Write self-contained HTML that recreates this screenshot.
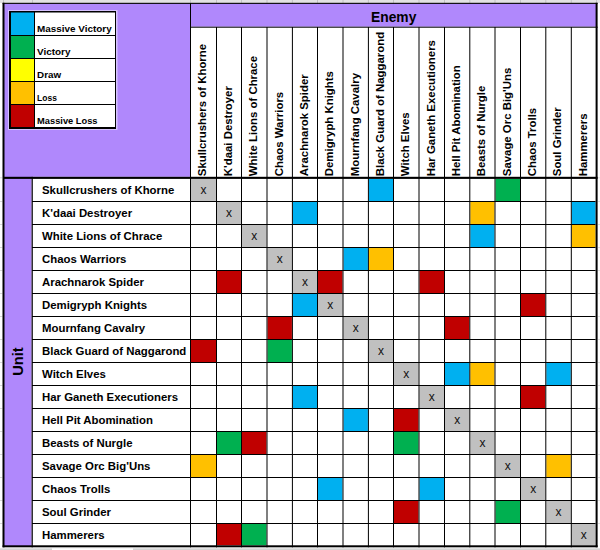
<!DOCTYPE html>
<html><head><meta charset="utf-8"><style>html,body{margin:0;padding:0;background:#fff;}svg{display:block;}text{font-family:"Liberation Sans",sans-serif;}</style></head><body>
<svg width="600" height="550" viewBox="0 0 600 550">
<rect x="0" y="0" width="600" height="550" fill="#fff"/>
<rect x="0" y="0" width="600" height="3" fill="#e3e3e3"/>
<rect x="3.0" y="0" width="1" height="3" fill="#c4c4c4"/>
<rect x="32.0" y="0" width="1" height="3" fill="#c4c4c4"/>
<rect x="190.0" y="0" width="1" height="3" fill="#c4c4c4"/>
<rect x="216.0" y="0" width="1" height="3" fill="#c4c4c4"/>
<rect x="241.0" y="0" width="1" height="3" fill="#c4c4c4"/>
<rect x="266.5" y="0" width="1" height="3" fill="#c4c4c4"/>
<rect x="291.9" y="0" width="1" height="3" fill="#c4c4c4"/>
<rect x="317.0" y="0" width="1" height="3" fill="#c4c4c4"/>
<rect x="342.5" y="0" width="1" height="3" fill="#c4c4c4"/>
<rect x="367.9" y="0" width="1" height="3" fill="#c4c4c4"/>
<rect x="393.0" y="0" width="1" height="3" fill="#c4c4c4"/>
<rect x="418.5" y="0" width="1" height="3" fill="#c4c4c4"/>
<rect x="444.0" y="0" width="1" height="3" fill="#c4c4c4"/>
<rect x="469.3" y="0" width="1" height="3" fill="#c4c4c4"/>
<rect x="494.5" y="0" width="1" height="3" fill="#c4c4c4"/>
<rect x="520.0" y="0" width="1" height="3" fill="#c4c4c4"/>
<rect x="545.3" y="0" width="1" height="3" fill="#c4c4c4"/>
<rect x="570.8" y="0" width="1" height="3" fill="#c4c4c4"/>
<rect x="596.0" y="0" width="1" height="3" fill="#c4c4c4"/>
<rect x="0" y="548.3" width="600" height="1.7" fill="#d4d4d4"/>
<rect x="52" y="548.3" width="81" height="1.7" fill="#fff"/>
<rect x="0" y="177.3" width="2.4" height="1" fill="#d8d8d8"/>
<rect x="597.8" y="177.3" width="2.2" height="1" fill="#e0e0e0"/>
<rect x="0" y="201.0" width="2.4" height="1" fill="#d8d8d8"/>
<rect x="597.8" y="201.0" width="2.2" height="1" fill="#e0e0e0"/>
<rect x="0" y="224.0" width="2.4" height="1" fill="#d8d8d8"/>
<rect x="597.8" y="224.0" width="2.2" height="1" fill="#e0e0e0"/>
<rect x="0" y="247.0" width="2.4" height="1" fill="#d8d8d8"/>
<rect x="597.8" y="247.0" width="2.2" height="1" fill="#e0e0e0"/>
<rect x="0" y="270.0" width="2.4" height="1" fill="#d8d8d8"/>
<rect x="597.8" y="270.0" width="2.2" height="1" fill="#e0e0e0"/>
<rect x="0" y="293.0" width="2.4" height="1" fill="#d8d8d8"/>
<rect x="597.8" y="293.0" width="2.2" height="1" fill="#e0e0e0"/>
<rect x="0" y="316.0" width="2.4" height="1" fill="#d8d8d8"/>
<rect x="597.8" y="316.0" width="2.2" height="1" fill="#e0e0e0"/>
<rect x="0" y="339.0" width="2.4" height="1" fill="#d8d8d8"/>
<rect x="597.8" y="339.0" width="2.2" height="1" fill="#e0e0e0"/>
<rect x="0" y="362.0" width="2.4" height="1" fill="#d8d8d8"/>
<rect x="597.8" y="362.0" width="2.2" height="1" fill="#e0e0e0"/>
<rect x="0" y="385.0" width="2.4" height="1" fill="#d8d8d8"/>
<rect x="597.8" y="385.0" width="2.2" height="1" fill="#e0e0e0"/>
<rect x="0" y="408.0" width="2.4" height="1" fill="#d8d8d8"/>
<rect x="597.8" y="408.0" width="2.2" height="1" fill="#e0e0e0"/>
<rect x="0" y="431.0" width="2.4" height="1" fill="#d8d8d8"/>
<rect x="597.8" y="431.0" width="2.2" height="1" fill="#e0e0e0"/>
<rect x="0" y="454.0" width="2.4" height="1" fill="#d8d8d8"/>
<rect x="597.8" y="454.0" width="2.2" height="1" fill="#e0e0e0"/>
<rect x="0" y="477.0" width="2.4" height="1" fill="#d8d8d8"/>
<rect x="597.8" y="477.0" width="2.2" height="1" fill="#e0e0e0"/>
<rect x="0" y="500.0" width="2.4" height="1" fill="#d8d8d8"/>
<rect x="597.8" y="500.0" width="2.2" height="1" fill="#e0e0e0"/>
<rect x="0" y="523.0" width="2.4" height="1" fill="#d8d8d8"/>
<rect x="597.8" y="523.0" width="2.2" height="1" fill="#e0e0e0"/>
<rect x="3" y="3.5" width="594" height="174" fill="#b088fc"/>
<rect x="3" y="177" width="30" height="370" fill="#b088fc"/>
<rect x="190.0" y="26.7" width="407.6" height="152.20000000000002" fill="#fff"/>
<rect x="31.6" y="176.8" width="566.0" height="370.49999999999994" fill="#fff"/>
<rect x="191.00" y="178.90" width="25.00" height="22.10" fill="#c0c0c0"/>
<text x="203.50" y="193.85" font-size="12" text-anchor="middle" fill="#111">x</text>
<rect x="368.90" y="178.90" width="24.10" height="22.10" fill="#00b0f0"/>
<rect x="495.50" y="178.90" width="24.50" height="22.10" fill="#00b050"/>
<rect x="217.00" y="202.00" width="24.00" height="22.00" fill="#c0c0c0"/>
<text x="229.00" y="216.90" font-size="12" text-anchor="middle" fill="#111">x</text>
<rect x="292.90" y="202.00" width="24.10" height="22.00" fill="#00b0f0"/>
<rect x="470.30" y="202.00" width="24.20" height="22.00" fill="#ffc000"/>
<rect x="571.80" y="202.00" width="23.80" height="22.00" fill="#00b0f0"/>
<rect x="242.00" y="225.00" width="24.50" height="22.00" fill="#c0c0c0"/>
<text x="254.25" y="239.90" font-size="12" text-anchor="middle" fill="#111">x</text>
<rect x="470.30" y="225.00" width="24.20" height="22.00" fill="#00b0f0"/>
<rect x="571.80" y="225.00" width="23.80" height="22.00" fill="#ffc000"/>
<rect x="267.50" y="248.00" width="24.40" height="22.00" fill="#c0c0c0"/>
<text x="279.70" y="262.90" font-size="12" text-anchor="middle" fill="#111">x</text>
<rect x="343.50" y="248.00" width="24.40" height="22.00" fill="#00b0f0"/>
<rect x="368.90" y="248.00" width="24.10" height="22.00" fill="#ffc000"/>
<rect x="217.00" y="271.00" width="24.00" height="22.00" fill="#c00000"/>
<rect x="292.90" y="271.00" width="24.10" height="22.00" fill="#c0c0c0"/>
<text x="304.95" y="285.90" font-size="12" text-anchor="middle" fill="#111">x</text>
<rect x="318.00" y="271.00" width="24.50" height="22.00" fill="#c00000"/>
<rect x="419.50" y="271.00" width="24.50" height="22.00" fill="#c00000"/>
<rect x="292.90" y="294.00" width="24.10" height="22.00" fill="#00b0f0"/>
<rect x="318.00" y="294.00" width="24.50" height="22.00" fill="#c0c0c0"/>
<text x="330.25" y="308.90" font-size="12" text-anchor="middle" fill="#111">x</text>
<rect x="521.00" y="294.00" width="24.30" height="22.00" fill="#c00000"/>
<rect x="267.50" y="317.00" width="24.40" height="22.00" fill="#c00000"/>
<rect x="343.50" y="317.00" width="24.40" height="22.00" fill="#c0c0c0"/>
<text x="355.70" y="331.90" font-size="12" text-anchor="middle" fill="#111">x</text>
<rect x="445.00" y="317.00" width="24.30" height="22.00" fill="#c00000"/>
<rect x="191.00" y="340.00" width="25.00" height="22.00" fill="#c00000"/>
<rect x="267.50" y="340.00" width="24.40" height="22.00" fill="#00b050"/>
<rect x="368.90" y="340.00" width="24.10" height="22.00" fill="#c0c0c0"/>
<text x="380.95" y="354.90" font-size="12" text-anchor="middle" fill="#111">x</text>
<rect x="394.00" y="363.00" width="24.50" height="22.00" fill="#c0c0c0"/>
<text x="406.25" y="377.90" font-size="12" text-anchor="middle" fill="#111">x</text>
<rect x="445.00" y="363.00" width="24.30" height="22.00" fill="#00b0f0"/>
<rect x="470.30" y="363.00" width="24.20" height="22.00" fill="#ffc000"/>
<rect x="546.30" y="363.00" width="24.50" height="22.00" fill="#00b0f0"/>
<rect x="292.90" y="386.00" width="24.10" height="22.00" fill="#00b0f0"/>
<rect x="419.50" y="386.00" width="24.50" height="22.00" fill="#c0c0c0"/>
<text x="431.75" y="400.90" font-size="12" text-anchor="middle" fill="#111">x</text>
<rect x="521.00" y="386.00" width="24.30" height="22.00" fill="#c00000"/>
<rect x="343.50" y="409.00" width="24.40" height="22.00" fill="#00b0f0"/>
<rect x="394.00" y="409.00" width="24.50" height="22.00" fill="#c00000"/>
<rect x="445.00" y="409.00" width="24.30" height="22.00" fill="#c0c0c0"/>
<text x="457.15" y="423.90" font-size="12" text-anchor="middle" fill="#111">x</text>
<rect x="217.00" y="432.00" width="24.00" height="22.00" fill="#00b050"/>
<rect x="242.00" y="432.00" width="24.50" height="22.00" fill="#c00000"/>
<rect x="394.00" y="432.00" width="24.50" height="22.00" fill="#00b050"/>
<rect x="470.30" y="432.00" width="24.20" height="22.00" fill="#c0c0c0"/>
<text x="482.40" y="446.90" font-size="12" text-anchor="middle" fill="#111">x</text>
<rect x="191.00" y="455.00" width="25.00" height="22.00" fill="#ffc000"/>
<rect x="495.50" y="455.00" width="24.50" height="22.00" fill="#c0c0c0"/>
<text x="507.75" y="469.90" font-size="12" text-anchor="middle" fill="#111">x</text>
<rect x="546.30" y="455.00" width="24.50" height="22.00" fill="#ffc000"/>
<rect x="318.00" y="478.00" width="24.50" height="22.00" fill="#00b0f0"/>
<rect x="419.50" y="478.00" width="24.50" height="22.00" fill="#00b0f0"/>
<rect x="521.00" y="478.00" width="24.30" height="22.00" fill="#c0c0c0"/>
<text x="533.15" y="492.90" font-size="12" text-anchor="middle" fill="#111">x</text>
<rect x="394.00" y="501.00" width="24.50" height="22.00" fill="#c00000"/>
<rect x="495.50" y="501.00" width="24.50" height="22.00" fill="#00b050"/>
<rect x="546.30" y="501.00" width="24.50" height="22.00" fill="#c0c0c0"/>
<text x="558.55" y="515.90" font-size="12" text-anchor="middle" fill="#111">x</text>
<rect x="217.00" y="524.00" width="24.00" height="21.30" fill="#c00000"/>
<rect x="242.00" y="524.00" width="24.50" height="21.30" fill="#00b050"/>
<rect x="571.80" y="524.00" width="23.80" height="21.30" fill="#c0c0c0"/>
<text x="583.70" y="538.55" font-size="12" text-anchor="middle" fill="#111">x</text>
<rect x="190.0" y="3" width="1" height="544.3" fill="#000"/>
<rect x="216.0" y="27" width="1" height="520.3" fill="#000"/>
<rect x="241.0" y="27" width="1" height="520.3" fill="#000"/>
<rect x="266.5" y="27" width="1" height="520.3" fill="#000"/>
<rect x="291.9" y="27" width="1" height="520.3" fill="#000"/>
<rect x="317.0" y="27" width="1" height="520.3" fill="#000"/>
<rect x="342.5" y="27" width="1" height="520.3" fill="#000"/>
<rect x="367.9" y="27" width="1" height="520.3" fill="#000"/>
<rect x="393.0" y="27" width="1" height="520.3" fill="#000"/>
<rect x="418.5" y="27" width="1" height="520.3" fill="#000"/>
<rect x="444.0" y="27" width="1" height="520.3" fill="#000"/>
<rect x="469.3" y="27" width="1" height="520.3" fill="#000"/>
<rect x="494.5" y="27" width="1" height="520.3" fill="#000"/>
<rect x="520.0" y="27" width="1" height="520.3" fill="#000"/>
<rect x="545.3" y="27" width="1" height="520.3" fill="#000"/>
<rect x="570.8" y="27" width="1" height="520.3" fill="#000"/>
<rect x="32" y="201.0" width="563.6" height="1" fill="#000"/>
<rect x="32" y="224.0" width="563.6" height="1" fill="#000"/>
<rect x="32" y="247.0" width="563.6" height="1" fill="#000"/>
<rect x="32" y="270.0" width="563.6" height="1" fill="#000"/>
<rect x="32" y="293.0" width="563.6" height="1" fill="#000"/>
<rect x="32" y="316.0" width="563.6" height="1" fill="#000"/>
<rect x="32" y="339.0" width="563.6" height="1" fill="#000"/>
<rect x="32" y="362.0" width="563.6" height="1" fill="#000"/>
<rect x="32" y="385.0" width="563.6" height="1" fill="#000"/>
<rect x="32" y="408.0" width="563.6" height="1" fill="#000"/>
<rect x="32" y="431.0" width="563.6" height="1" fill="#000"/>
<rect x="32" y="454.0" width="563.6" height="1" fill="#000"/>
<rect x="32" y="477.0" width="563.6" height="1" fill="#000"/>
<rect x="32" y="500.0" width="563.6" height="1" fill="#000"/>
<rect x="32" y="523.0" width="563.6" height="1" fill="#000"/>
<rect x="31.6" y="176.8" width="1.2" height="370.49999999999994" fill="#000"/>
<rect x="190.0" y="26.7" width="407.6" height="1" fill="#000"/>
<rect x="3" y="176.8" width="594.6" height="2.0999999999999943" fill="#000"/>
<rect x="2.6" y="2.8" width="595" height="1.1" fill="#000"/>
<rect x="2.5" y="2.8" width="2.0" height="544.5" fill="#000"/>
<rect x="595.6" y="2.8" width="2.0" height="544.5" fill="#000"/>
<rect x="2.6" y="545.3" width="595.0" height="2.0" fill="#000"/>
<text x="393.7" y="21.8" font-size="13.8" font-weight="bold" text-anchor="middle" fill="#000">Enemy</text>
<text transform="translate(23.3,361.5) rotate(-90)" x="0" y="0" font-size="14.6" font-weight="bold" text-anchor="middle" fill="#000">Unit</text>
<text transform="translate(206.10,176.2) rotate(-90)" font-size="11.4" font-weight="bold" fill="#000">Skullcrushers of Khorne</text>
<text transform="translate(232.10,176.2) rotate(-90)" font-size="11.4" font-weight="bold" fill="#000">K&#39;daai Destroyer</text>
<text transform="translate(257.10,176.2) rotate(-90)" font-size="11.4" font-weight="bold" fill="#000">White Lions of Chrace</text>
<text transform="translate(282.60,176.2) rotate(-90)" font-size="11.4" font-weight="bold" fill="#000">Chaos Warriors</text>
<text transform="translate(308.00,176.2) rotate(-90)" font-size="11.4" font-weight="bold" fill="#000">Arachnarok Spider</text>
<text transform="translate(333.10,176.2) rotate(-90)" font-size="11.4" font-weight="bold" fill="#000">Demigryph Knights</text>
<text transform="translate(358.60,176.2) rotate(-90)" font-size="11.4" font-weight="bold" fill="#000">Mournfang Cavalry</text>
<text transform="translate(384.00,176.2) rotate(-90)" font-size="11.4" font-weight="bold" fill="#000">Black Guard of Naggarond</text>
<text transform="translate(409.10,176.2) rotate(-90)" font-size="11.4" font-weight="bold" fill="#000">Witch Elves</text>
<text transform="translate(434.60,176.2) rotate(-90)" font-size="11.4" font-weight="bold" fill="#000">Har Ganeth Executioners</text>
<text transform="translate(460.10,176.2) rotate(-90)" font-size="11.4" font-weight="bold" fill="#000">Hell Pit Abomination</text>
<text transform="translate(485.40,176.2) rotate(-90)" font-size="11.4" font-weight="bold" fill="#000">Beasts of Nurgle</text>
<text transform="translate(510.60,176.2) rotate(-90)" font-size="11.4" font-weight="bold" fill="#000">Savage Orc Big&#39;Uns</text>
<text transform="translate(536.10,176.2) rotate(-90)" font-size="11.4" font-weight="bold" fill="#000">Chaos Trolls</text>
<text transform="translate(561.40,176.2) rotate(-90)" font-size="11.4" font-weight="bold" fill="#000">Soul Grinder</text>
<text transform="translate(586.90,176.2) rotate(-90)" font-size="11.4" font-weight="bold" fill="#000">Hammerers</text>
<text x="42.0" y="193.80" font-size="11.4" font-weight="bold" fill="#000">Skullcrushers of Khorne</text>
<text x="42.0" y="216.80" font-size="11.4" font-weight="bold" fill="#000">K&#39;daai Destroyer</text>
<text x="42.0" y="239.80" font-size="11.4" font-weight="bold" fill="#000">White Lions of Chrace</text>
<text x="42.0" y="262.80" font-size="11.4" font-weight="bold" fill="#000">Chaos Warriors</text>
<text x="42.0" y="285.80" font-size="11.4" font-weight="bold" fill="#000">Arachnarok Spider</text>
<text x="42.0" y="308.80" font-size="11.4" font-weight="bold" fill="#000">Demigryph Knights</text>
<text x="42.0" y="331.80" font-size="11.4" font-weight="bold" fill="#000">Mournfang Cavalry</text>
<text x="42.0" y="354.80" font-size="11.4" font-weight="bold" fill="#000">Black Guard of Naggarond</text>
<text x="42.0" y="377.80" font-size="11.4" font-weight="bold" fill="#000">Witch Elves</text>
<text x="42.0" y="400.80" font-size="11.4" font-weight="bold" fill="#000">Har Ganeth Executioners</text>
<text x="42.0" y="423.80" font-size="11.4" font-weight="bold" fill="#000">Hell Pit Abomination</text>
<text x="42.0" y="446.80" font-size="11.4" font-weight="bold" fill="#000">Beasts of Nurgle</text>
<text x="42.0" y="469.80" font-size="11.4" font-weight="bold" fill="#000">Savage Orc Big&#39;Uns</text>
<text x="42.0" y="492.80" font-size="11.4" font-weight="bold" fill="#000">Chaos Trolls</text>
<text x="42.0" y="515.80" font-size="11.4" font-weight="bold" fill="#000">Soul Grinder</text>
<text x="42.0" y="538.80" font-size="11.4" font-weight="bold" fill="#000">Hammerers</text>
<rect x="8" y="10" width="109.5" height="120" fill="#e6dcff" opacity="0.7"/>
<rect x="9" y="11" width="107" height="118" fill="#000"/>
<rect x="11" y="12.5" width="23" height="22.5" fill="#00b0f0"/>
<rect x="35" y="12.5" width="80" height="22.5" fill="#fff"/>
<text x="37.1" y="31.5" font-size="9.8" font-weight="bold" fill="#000" textLength="74.6" lengthAdjust="spacingAndGlyphs">Massive Victory</text>
<rect x="11" y="36" width="23" height="22" fill="#00b050"/>
<rect x="35" y="36" width="80" height="22" fill="#fff"/>
<text x="37.1" y="54.5" font-size="9.8" font-weight="bold" fill="#000" textLength="33.4" lengthAdjust="spacingAndGlyphs">Victory</text>
<rect x="11" y="59" width="23" height="22" fill="#ffff00"/>
<rect x="35" y="59" width="80" height="22" fill="#fff"/>
<text x="37.1" y="77.5" font-size="9.8" font-weight="bold" fill="#000" textLength="24.0" lengthAdjust="spacingAndGlyphs">Draw</text>
<rect x="11" y="82" width="23" height="22" fill="#ffc000"/>
<rect x="35" y="82" width="80" height="22" fill="#fff"/>
<text x="37.1" y="100.5" font-size="9.8" font-weight="bold" fill="#000" textLength="19.8" lengthAdjust="spacingAndGlyphs">Loss</text>
<rect x="11" y="105" width="23" height="22" fill="#c00000"/>
<rect x="35" y="105" width="80" height="22" fill="#fff"/>
<text x="37.1" y="123.5" font-size="9.8" font-weight="bold" fill="#000" textLength="60.4" lengthAdjust="spacingAndGlyphs">Massive Loss</text>
</svg></body></html>
